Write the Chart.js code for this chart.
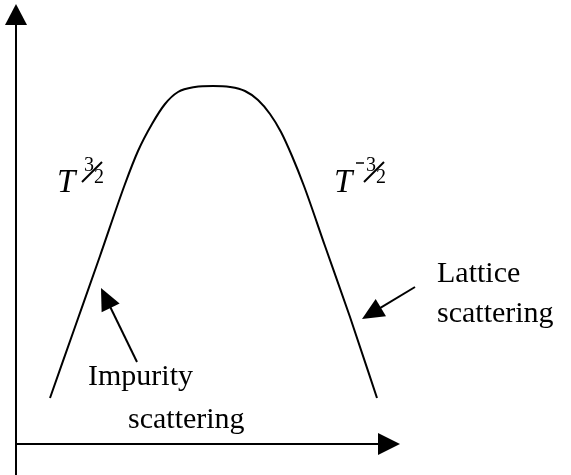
<!DOCTYPE html>
<html>
<head>
<meta charset="utf-8">
<script src="https://cdn.jsdelivr.net/npm/chart.js@4/dist/chart.umd.min.js"></script>
<style>
  html, body { margin: 0; padding: 0; background: #fff; }
</style>
</head>
<body>
<canvas id="c" width="571" height="475"></canvas>
<script>
// mobility vs temperature sketch (arbitrary units)
const temp     = [8.5, 14.75, 21, 27.25, 30.5, 34, 37.25, 40.5, 44.75, 49.25, 53.5, 57.25, 60.5, 63.5, 66.25, 69, 72, 77.25, 83.5, 90.25];
const mobility = [11.5, 29.25, 47, 65, 73.25, 80, 85, 88, 89.25, 89.5, 89.25, 88.25, 86, 82.5, 78, 72, 64.5, 49.5, 31.75, 11.5];

const impurityText = ["Impurity", "scattering"];
const latticeText = ["Lattice", "scattering"];

const serif = '"Liberation Serif", "Times New Roman", serif';

function arrowHead(ctx, fx, fy, tx, ty, len, half) {
  const a = Math.atan2(ty - fy, tx - fx);
  const bx = tx - len * Math.cos(a), by = ty - len * Math.sin(a);
  ctx.beginPath();
  ctx.moveTo(tx, ty);
  ctx.lineTo(bx + half * Math.sin(a), by - half * Math.cos(a));
  ctx.lineTo(bx - half * Math.sin(a), by + half * Math.cos(a));
  ctx.closePath();
  ctx.fill();
}

function arrow(ctx, fx, fy, tx, ty, len, half) {
  const a = Math.atan2(ty - fy, tx - fx);
  ctx.beginPath();
  ctx.moveTo(fx, fy);
  ctx.lineTo(tx - (len - 2) * Math.cos(a), ty - (len - 2) * Math.sin(a));
  ctx.stroke();
  arrowHead(ctx, fx, fy, tx, ty, len, half);
}

// T with a slashed 3/2 exponent
function tPower(ctx, x0, y0, minus) {
  ctx.font = 'italic 33px ' + serif;
  ctx.textAlign = 'left';
  ctx.fillText('T', x0, y0);
  let sx = x0 + 27;
  ctx.font = '20px ' + serif;
  if (minus) {
    ctx.beginPath();
    ctx.lineWidth = 1.5;
    ctx.moveTo(x0 + 22, y0 - 29);
    ctx.lineTo(x0 + 30, y0 - 29);
    ctx.stroke();
    sx = x0 + 32;
  }
  ctx.fillText('3', sx, y0 - 21);
  ctx.fillText('2', sx + 10, y0 - 9);
  ctx.beginPath();
  ctx.lineWidth = 2;
  ctx.moveTo(sx - 2, y0 - 10);
  ctx.lineTo(sx + 18, y0 - 30);
  ctx.stroke();
}

const sketch = {
  id: 'sketch',
  afterDatasetsDraw(chart) {
    const { ctx, scales: { x, y } } = chart;
    const px = v => x.getPixelForValue(v);
    const py = v => y.getPixelForValue(v);
    ctx.save();
    ctx.strokeStyle = '#000';
    ctx.fillStyle = '#000';
    ctx.lineWidth = 2;

    // axes
    ctx.beginPath();
    ctx.moveTo(px(0), py(-7.75));
    ctx.lineTo(px(0), py(106));
    ctx.stroke();
    arrowHead(ctx, px(0), py(0), px(0), py(110), 21, 11);
    ctx.beginPath();
    ctx.moveTo(px(0), py(0));
    ctx.lineTo(px(92), py(0));
    ctx.stroke();
    arrowHead(ctx, px(0), py(0), px(96), py(0), 22, 11);

    // pointers
    arrow(ctx, px(30.25), py(20.5), px(21.25), py(39), 22, 10);
    arrow(ctx, px(99.75), py(39.25), px(86.5), py(31.25), 22, 10);

    // labels
    ctx.font = '30px ' + serif;
    ctx.textAlign = 'left';
    ctx.textBaseline = 'alphabetic';
    ctx.fillText(impurityText[0], px(18), py(14.75));
    ctx.fillText(impurityText[1], px(28), py(4));
    ctx.fillText(latticeText[0], px(105.25), py(40.5));
    ctx.fillText(latticeText[1], px(105.25), py(30.5));

    tPower(ctx, px(10.25), py(63), false);
    tPower(ctx, px(79.5), py(63), true);
    ctx.restore();
  }
};

new Chart(document.getElementById('c'), {
  type: 'line',
  data: {
    datasets: [{
      data: temp.map((t, i) => ({ x: t, y: mobility[i] })),
      borderColor: '#000',
      borderWidth: 2,
      pointRadius: 0,
      fill: false,
      cubicInterpolationMode: 'monotone'
    }]
  },
  options: {
    responsive: false,
    devicePixelRatio: 1,
    animation: false,
    layout: { padding: 0 },
    plugins: { legend: { display: false }, tooltip: { enabled: false } },
    scales: {
      x: { type: 'linear', min: -4, max: 138.75, display: false },
      y: { type: 'linear', min: -7.75, max: 111, display: false }
    }
  },
  plugins: [sketch]
});
</script>
</body>
</html>
